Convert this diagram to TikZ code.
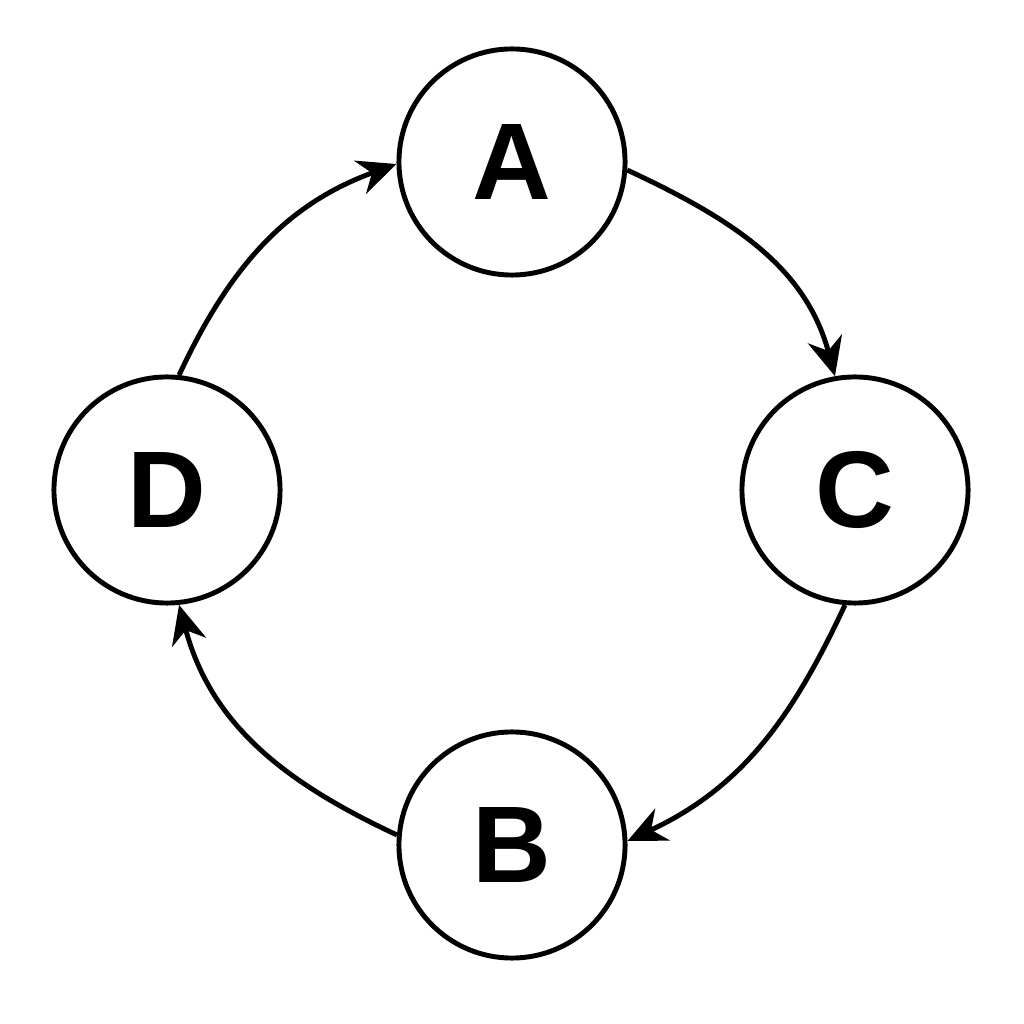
\documentclass[tikz,border=0pt]{standalone}
\usepackage{fontspec}
\setmainfont{Liberation Sans}
\usetikzlibrary{arrows.meta}
\begin{document}
\begin{tikzpicture}[x=0.01cm,y=0.01cm,
  nd/.style={circle,draw,line width=1.4pt,minimum size=2.26cm,inner sep=0pt,font=\fontsize{31}{36}\selectfont\bfseries},
  arr/.style={line width=1.4pt,-{Stealth[length=11pt,width=10pt]}}]
\useasboundingbox (0,0) rectangle (1024,1024);
\node[nd] (A) at (512,862) {A};
\node[nd] (C) at (855,534) {C};
\node[nd] (D) at (167,534) {D};
\node[nd] (B) at (512,179) {B};
\draw[arr] (A.-4) to[out=-25,in=105] (C.100);
\draw[arr] (D.84) to[out=65,in=200] (A.181);
\draw[arr] (C.-95) to[out=-115,in=25] (B.2);
\draw[arr] (B.175) to[out=155,in=-75] (D.-84);
\end{tikzpicture}
\end{document}
